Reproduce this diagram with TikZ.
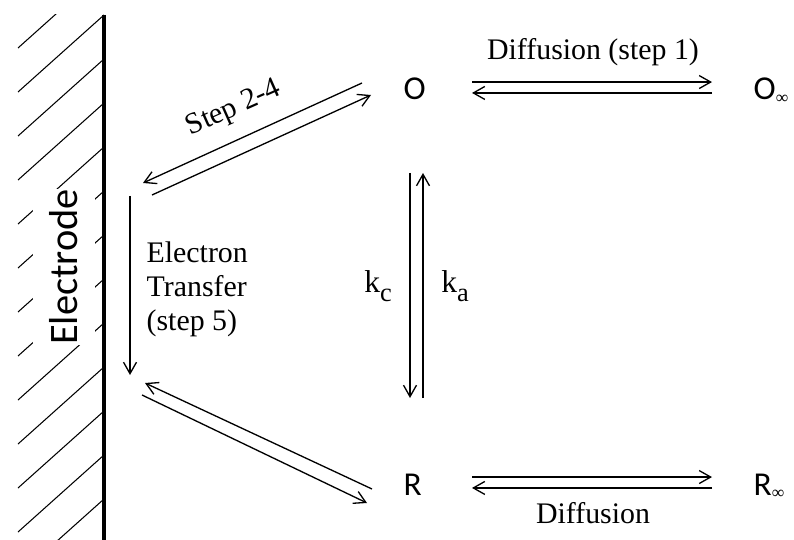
\documentclass[tikz,border=0pt]{standalone}
\usepackage{fontspec}
\setmainfont{Liberation Serif}
\newfontfamily\calibri{Carlito}
\usetikzlibrary{arrows.meta}
\newcommand{\infsub}{\raisebox{-2pt}{\rmfamily\fontsize{10}{10}\selectfont ∞}}
\newcommand{\ksub}[1]{k\raisebox{-5pt}{\fontsize{15}{15}\selectfont #1}}

\begin{document}
\begin{tikzpicture}[x=0.02cm, y=-0.02cm, line width=0.75pt,
  arr/.style={-{Straight Barb[length=2.3mm,width=2.6mm]}},
  species/.style={anchor=base west, inner sep=0pt, font=\calibri\fontsize{19}{19}\selectfont},
  lbl/.style={inner sep=0pt, font=\fontsize{17}{19.4}\selectfont}]
  \useasboundingbox (0,0) rectangle (794,540);
  % hatched electrode
  \begin{scope}
    \clip (0,15) rectangle (104,540);
    \foreach \y in {-29,15,...,545}
      \draw[line width=0.6pt] (104,\y) -- (18,\y+77);
  \end{scope}
  \node[fill=white, rotate=90, minimum width=3.1cm, minimum height=1.24cm, inner sep=0pt,
        font=\calibri\fontsize{23}{23}\selectfont] (electrode) at (64,267) {Electrode};
  \draw[line width=2.2pt] (104,15) -- (104,540);

  % species
  \node[species] (O) at (403,100) {O};
  \node[species] (Oinf) at (753,100) {O\infsub};
  \node[species] (R) at (403,495) {R};
  \node[species] (Rinf) at (753,495) {R\infsub};

  % diffusion, top and bottom
  \coordinate (o1) at (472,87.5);
  \coordinate (o2) at (712,87.5);
  \draw[arr] ([yshift=3.1pt]o1) -- ([yshift=3.1pt]o2);
  \draw[arr] ([yshift=-3.1pt]o2) -- ([yshift=-3.1pt]o1);
  \node[lbl, anchor=base] (dif1) at (593,60) {Diffusion (step 1)};
  \coordinate (r1) at (472,482.5);
  \coordinate (r2) at (712,482.5);
  \draw[arr] ([yshift=3.1pt]r1) -- ([yshift=3.1pt]r2);
  \draw[arr] ([yshift=-3.1pt]r2) -- ([yshift=-3.1pt]r1);
  \node[lbl, anchor=base] (dif2) at (593,523) {Diffusion};

  % chemical step
  \coordinate (v1) at (416.5,173);
  \coordinate (v2) at (416.5,398);
  \draw[arr] ([xshift=-3.7pt]v1) -- ([xshift=-3.7pt]v2);
  \draw[arr] ([xshift=3.7pt]v2) -- ([xshift=3.7pt]v1);
  \node[lbl, anchor=base, font=\fontsize{18}{18}\selectfont] (kc) at (378,293) {\ksub{c}};
  \node[lbl, anchor=base, font=\fontsize{18}{18}\selectfont] (ka) at (455,293) {\ksub{a}};

  % steps 2-4
  \coordinate (tA) at (362,83);
  \coordinate (tB) at (143,183);
  \coordinate (tC) at (152,195);
  \coordinate (tD) at (371,95);
  \draw[arr] (tA) -- (tB);
  \draw[arr] (tC) -- (tD);
  \node[lbl, rotate=24] (steps) at (234,109) {Step 2-4};

  % electron transfer
  \coordinate (e1) at (130,196);
  \coordinate (e2) at (130,375);
  \draw[arr] (e1) -- (e2);
  \node[lbl, anchor=base west, align=left] (et) at (146,331) {Electron\\Transfer\\(step 5)};

  % back to R
  \coordinate (bA) at (372,489);
  \coordinate (bB) at (145,383);
  \coordinate (bC) at (142,395);
  \coordinate (bD) at (367,503);
  \draw[arr] (bA) -- (bB);
  \draw[arr] (bC) -- (bD);
\end{tikzpicture}
\end{document}
